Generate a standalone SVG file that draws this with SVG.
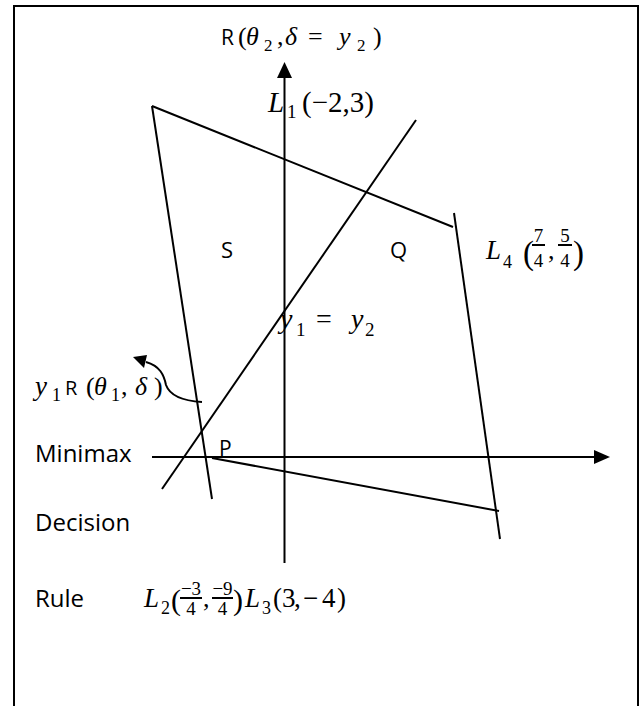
<svg xmlns="http://www.w3.org/2000/svg" width="642" height="706" viewBox="0 0 642 706">
<style>
.ln{stroke:#000;stroke-width:2;fill:none}
.sans{font-family:"Open Sans","Liberation Sans",sans-serif;fill:#000}
.m{font-family:"Liberation Serif","DejaVu Serif",serif;fill:#000}
.i{font-style:italic}
</style>
<rect width="642" height="706" fill="#fff"/>
<path class="ln" d="M14,706 V6 H638 V706"/>
<g id="connectors">
<line class="ln" x1="284.5" y1="563" x2="284.5" y2="76"/>
<polygon points="284.5,62 277,78 292,78" fill="#000"/>
<line class="ln" x1="152" y1="457" x2="596" y2="457"/>
<polygon points="610,457 594,450 594,464" fill="#000"/>
<line class="ln" x1="152" y1="106" x2="453" y2="227"/>
<line class="ln" x1="152" y1="106" x2="212" y2="499"/>
<line class="ln" x1="454" y1="213" x2="500" y2="539"/>
<line class="ln" x1="212" y1="458" x2="499" y2="511"/>
<line class="ln" x1="416" y1="120" x2="162" y2="489"/>
<path class="ln" d="M202,402 C185,401 170,396 166,385 C164,375 160,366 146,362"/>
<polygon points="133,357 147,355 144,368" fill="#000"/>
</g>
<g id="label-top">
<text class="sans" x="221" y="45" font-size="21">R</text>
<text class="m" font-size="26" y="45"><tspan x="238">(</tspan><tspan class="i" x="246">θ</tspan><tspan x="277">,</tspan><tspan class="i" x="285">δ</tspan><tspan x="308">=</tspan><tspan class="i" x="339">y</tspan><tspan x="373">)</tspan></text>
<text class="m" font-size="17" y="51"><tspan x="264">2</tspan><tspan x="357">2</tspan></text>
</g>
<g id="label-L1">
<text class="m" font-size="29" y="112"><tspan class="i" x="268">L</tspan><tspan x="302">(−2,3)</tspan></text>
<text class="m" font-size="19" x="287" y="118">1</text>
</g>
<g id="label-S"><text class="sans" font-size="22" x="221" y="258">S</text></g>
<g id="label-Q"><text class="sans" font-size="22" x="390" y="258">Q</text></g>
<g id="label-L4">
<text class="m i" font-size="27" x="486" y="259">L</text>
<text class="m" font-size="18" x="503" y="268">4</text>
<text class="m" font-size="33" x="523" y="264">(</text>
<text class="m" font-size="19" text-anchor="middle" y="242"><tspan x="538.5">7</tspan><tspan x="565">5</tspan></text>
<line class="ln" x1="532" y1="245" x2="545" y2="245" stroke-width="1.3"/>
<line class="ln" x1="558" y1="245" x2="572" y2="245" stroke-width="1.3"/>
<text class="m" font-size="19" text-anchor="middle" y="267"><tspan x="538.5">4</tspan><tspan x="565">4</tspan></text>
<text class="m" font-size="26" x="548" y="259">,</text>
<text class="m" font-size="33" x="573" y="264">)</text>
</g>
<g id="label-eq">
<text class="m" font-size="28" y="328"><tspan class="i" x="280">y</tspan><tspan x="316">=</tspan><tspan class="i" x="351">y</tspan></text>
<text class="m" font-size="19" y="336"><tspan x="296">1</tspan><tspan x="365">2</tspan></text>
</g>
<g id="label-y1">
<text class="m i" font-size="27" x="35" y="395">y</text>
<text class="m" font-size="18" x="52" y="401">1</text>
<text class="sans" x="65" y="395" font-size="20">R</text>
<text class="m" font-size="26" y="395"><tspan x="86">(</tspan><tspan class="i" x="94">θ</tspan><tspan x="121">,</tspan><tspan class="i" x="135">δ</tspan><tspan x="154">)</tspan></text>
<text class="m" font-size="18" x="111" y="401">1</text>
</g>
<g id="label-minimax"><text class="sans" font-size="24" x="35" y="462">Minimax</text></g>
<g id="label-P"><text class="sans" font-size="21" x="219" y="456">P</text></g>
<g id="label-decision"><text class="sans" font-size="24" x="35" y="531">Decision</text></g>
<g id="label-rule"><text class="sans" font-size="24" x="35" y="607">Rule</text></g>
<g id="label-L2L3">
<text class="m i" font-size="27" x="144" y="607">L</text>
<text class="m" font-size="18" x="161" y="614">2</text>
<text class="m" font-size="30" x="171" y="610">(</text>
<text class="m" font-size="19" text-anchor="middle" y="595"><tspan x="191">−3</tspan><tspan x="222.5">−9</tspan></text>
<line class="ln" x1="180" y1="598" x2="202" y2="598" stroke-width="1.3"/>
<line class="ln" x1="212" y1="598" x2="233" y2="598" stroke-width="1.3"/>
<text class="m" font-size="19" text-anchor="middle" y="615"><tspan x="191">4</tspan><tspan x="222.5">4</tspan></text>
<text class="m" font-size="26" x="203" y="607">,</text>
<text class="m" font-size="30" x="233" y="610">)</text>
<text class="m i" font-size="27" x="245" y="607">L</text>
<text class="m" font-size="18" x="262" y="614">3</text>
<text class="m" font-size="27" y="607"><tspan x="273">(</tspan><tspan x="282">3</tspan><tspan x="294">,</tspan><tspan x="303">−</tspan><tspan x="322">4</tspan><tspan x="337">)</tspan></text>
</g>
</svg>
